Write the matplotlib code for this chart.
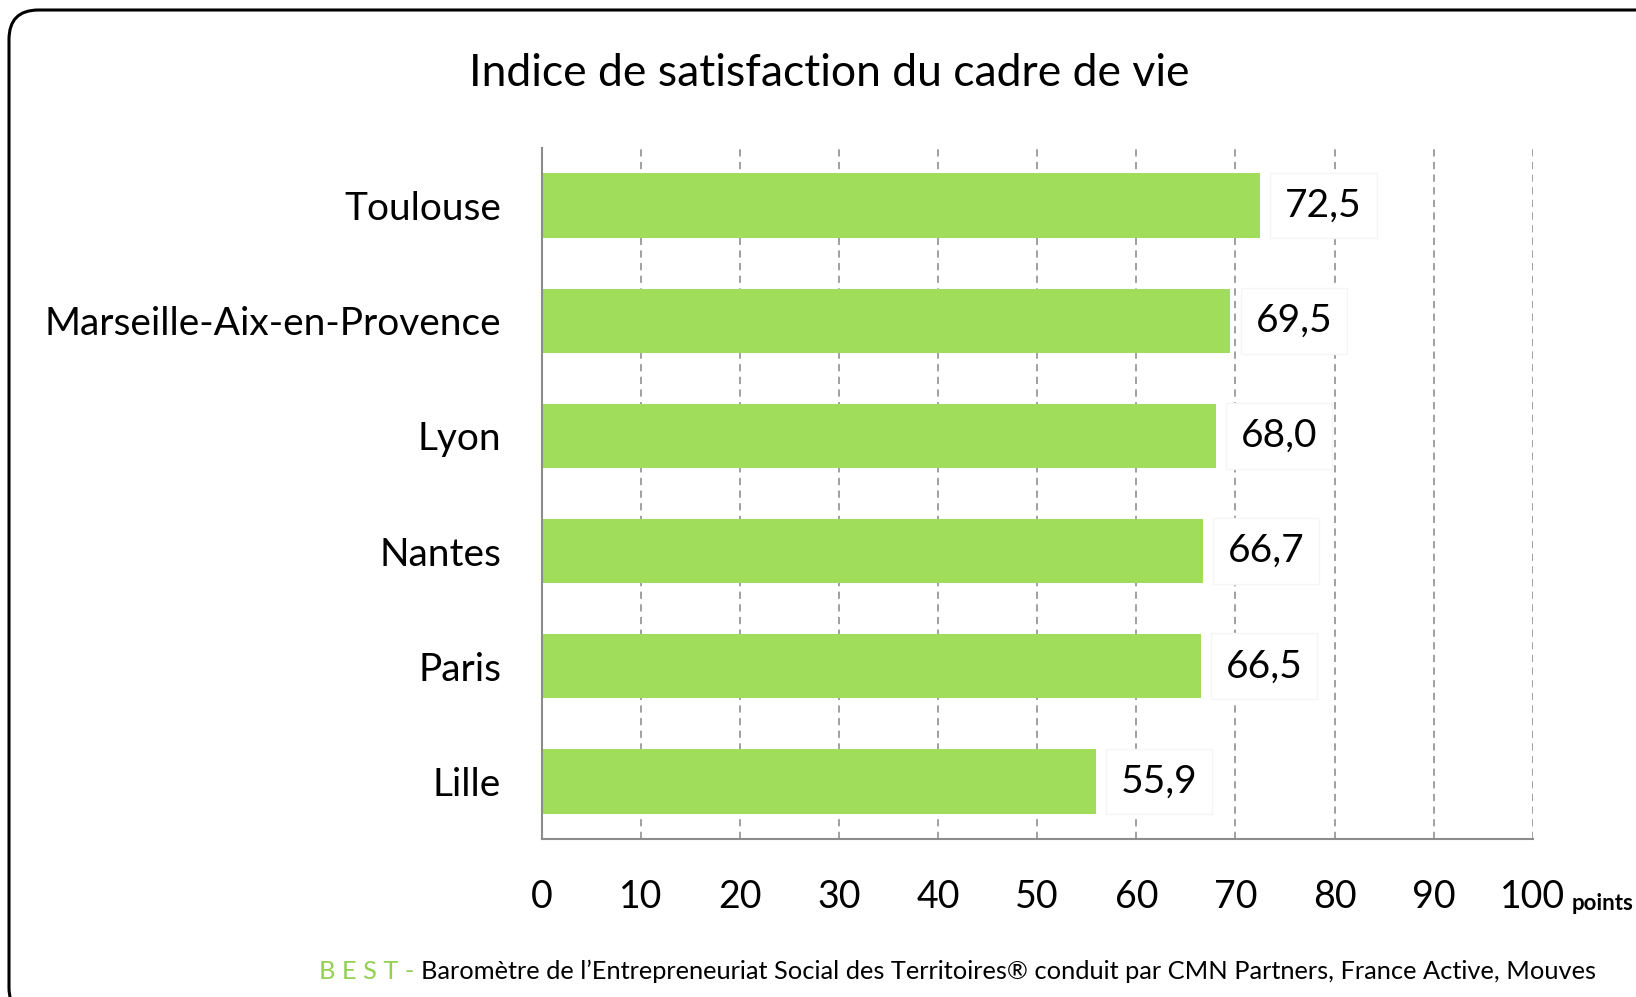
import matplotlib.pyplot as plt
from matplotlib.patches import FancyBboxPatch

plt.rcParams['font.family'] = ['Lato', 'DejaVu Sans']

villes = ["Toulouse", "Marseille-Aix-en-Provence", "Lyon", "Nantes", "Paris", "Lille"]
indices = [72.5, 69.5, 68.0, 66.7, 66.5, 55.9]
ticks_x = [0, 10, 20, 30, 40, 50, 60, 70, 80, 90, 100]

W, H = 1636, 997
fig = plt.figure(figsize=(W / 100, H / 100), dpi=100)

# cadre arrondi
cadre = FancyBboxPatch((9 / W, -20 / H), 1680 / W, (H - 10 + 20) / H,
                       boxstyle="round,pad=0,rounding_size=0.018",
                       transform=fig.transFigure, fc='none', ec='black', lw=2.2,
                       mutation_aspect=W / H)
fig.patches.append(cadre)

ax = fig.add_axes([541.5 / W, 1 - 839 / H, (1532.8 - 541.5) / W, (839 - 148) / H])

y = list(range(len(villes)))
ax.barh(y, indices, height=0.56, color='#9fdd5b', zorder=2)
ax.set_ylim(len(villes) - 0.5, -0.5)
ax.set_xlim(0, 100)
ax.set_yticks(y)
ax.set_yticklabels(villes, fontsize=28)
ax.set_xticks(ticks_x)
ax.set_xticklabels([str(t) for t in ticks_x], fontsize=27)
ax.tick_params(axis='x', length=0, pad=29)
ax.tick_params(axis='y', length=0, pad=29)

for t in ticks_x[1:]:
    ax.axvline(t, color='#999999', lw=1.3, ls=(0, (4, 3)), zorder=1)

for s in ['top', 'right']:
    ax.spines[s].set_visible(False)
for s in ['left', 'bottom']:
    ax.spines[s].set_color('#8c8c8c')
    ax.spines[s].set_linewidth(1.5)

for yi, v in zip(y, indices):
    ax.annotate(f"{v:.1f}".replace('.', ','), xy=(v, yi), xytext=(18, 0),
                textcoords='offset points', ha='left', va='center', fontsize=28,
                bbox=dict(boxstyle='square,pad=0.38', fc='white', ec='#f5f5f5', lw=1),
                zorder=3)

fig.text(829 / W, 1 - 74 / H, "Indice de satisfaction du cadre de vie",
         ha='center', va='center', fontsize=32)

fig.text(1572 / W, 1 - 910 / H, "points", ha='left', va='baseline',
         fontsize=16, fontweight='bold')

pied = fig.text(1596 / W, 1 - 971 / H,
                "Baromètre de l’Entrepreneuriat Social des Territoires® conduit par CMN Partners, France Active, Mouves",
                ha='right', va='center', fontsize=18.3)
fig.canvas.draw()
x0 = pied.get_window_extent().x0
fig.text((x0 - 7) / W, 1 - 971 / H, "B E S T -", ha='right', va='center',
         fontsize=18.3, color='#92d050')

fig.savefig('out.png', dpi=100)
